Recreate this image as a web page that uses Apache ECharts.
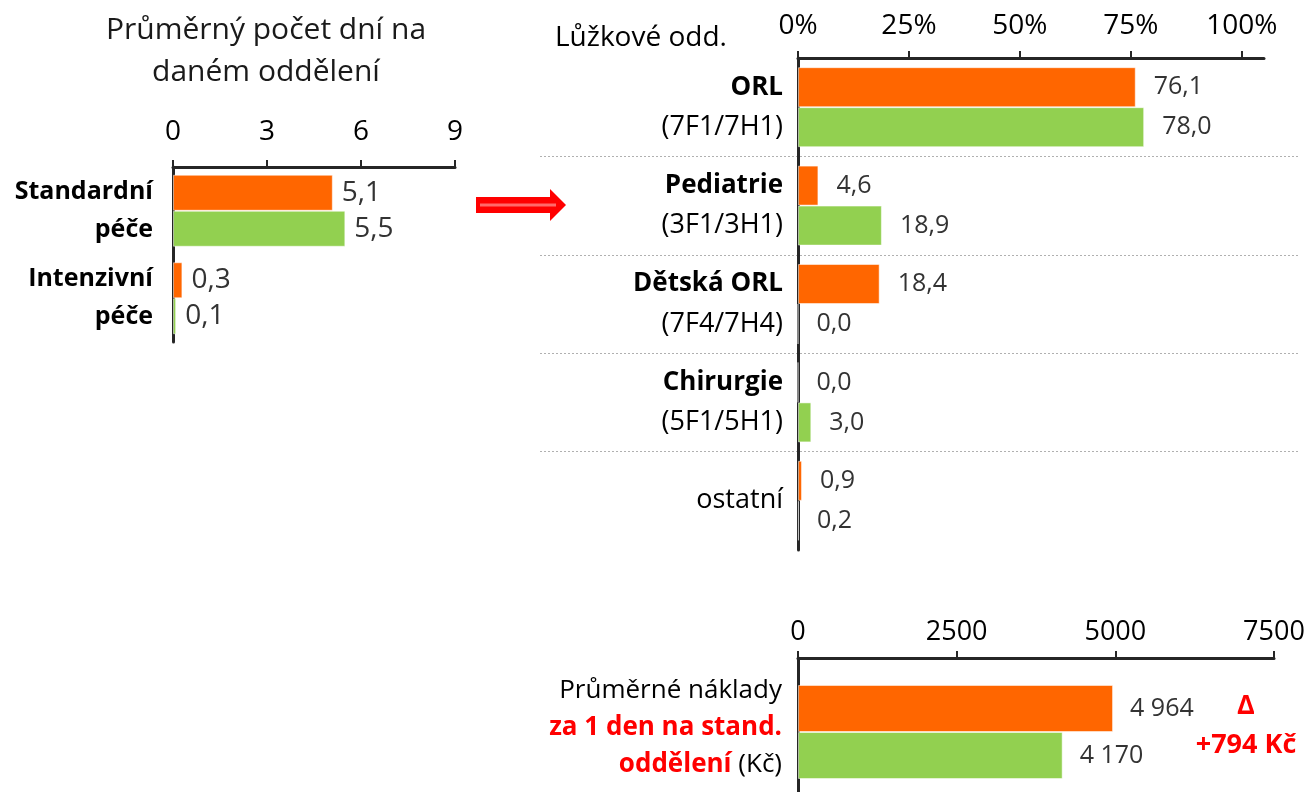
<!DOCTYPE html>
<html>
<head>
<meta charset="utf-8">
<script src="https://cdn.jsdelivr.net/npm/echarts@6/dist/echarts.min.js"></script>
<style>
html,body{margin:0;padding:0;background:#fff;}
#chart{width:1306px;height:792px;}
</style>
</head>
<body>
<div id="chart"></div>
<script>
// ---- data ----
const careCategories = ['Standardní péče', 'Intenzivní péče'];
const careOrange = [5.1, 0.3];
const careGreen = [5.5, 0.1];
const careTicks = [0, 3, 6, 9];

const deptNames = ['ORL', 'Pediatrie', 'Dětská ORL', 'Chirurgie', 'ostatní'];
const deptCodes = ['(7F1/7H1)', '(3F1/3H1)', '(7F4/7H4)', '(5F1/5H1)', ''];
const deptOrange = [76.1, 4.6, 18.4, 0.0, 0.9];
const deptGreen = [78.0, 18.9, 0.0, 3.0, 0.2];
const pctTicks = [0, 25, 50, 75, 100];

const costCategory = ['Průměrné náklady za 1 den na stand. oddělení (Kč)'];
const costOrange = [4964];
const costGreen = [4170];
const costTicks = [0, 2500, 5000, 7500];

// ---- styles ----
const ORANGE = '#FF6600';
const GREEN = '#92D050';
const AXIS = '#262626';
const FONT = '"Open Sans", "Noto Sans", sans-serif';
const dec = v => v.toFixed(1).replace('.', ',');
const thousands = v => String(v).replace(/\B(?=(\d{3})+(?!\d))/g, ' ');

const chart = echarts.init(document.getElementById('chart'));

const axisLine = {show: true, lineStyle: {color: AXIS, width: 3}};

function barSeries(x, y, data, color, width, fmt, fontSize, dist) {
  return {
    type: 'bar', xAxisIndex: x, yAxisIndex: y, data: data,
    barWidth: width, barGap: '0%',
    itemStyle: {color: color, borderColor: 'rgba(255,255,255,0.5)', borderWidth: 1},
    label: {show: true, position: 'right', distance: dist, color: '#333',
      fontFamily: FONT, fontSize: fontSize, formatter: p => fmt(p.value)},
    silent: true, animation: false
  };
}

const delta = costOrange[0] - costGreen[0];

const option = {
  animation: false,
  backgroundColor: '#fff',
  textStyle: {fontFamily: FONT},
  grid: [
    {left: 173, top: 167, width: 282, height: 175, outerBoundsMode: 'none'},
    {left: 798, top: 58, width: 466, height: 492, outerBoundsMode: 'none'},
    {left: 540, top: 58, width: 760, height: 492, outerBoundsMode: 'none'},
    {left: 798, top: 658, width: 476, height: 148, outerBoundsMode: 'none'}
  ],
  xAxis: [
    {gridIndex: 0, type: 'value', position: 'top', min: careTicks[0], max: careTicks[careTicks.length-1], interval: 3,
     axisLine: axisLine, axisTick: {show: true, length: 7, lineStyle: {color: AXIS, width: 2}},
     splitLine: {show: false},
     axisLabel: {fontSize: 28, color: '#000', margin: 21, fontFamily: FONT}},
    {gridIndex: 1, type: 'value', position: 'top', min: 0, max: 105,
     axisLine: axisLine,
     axisTick: {show: true, length: 7, lineStyle: {color: AXIS, width: 2}, customValues: pctTicks},
     splitLine: {show: false},
     axisLabel: {fontSize: 28, color: '#000', margin: 18, fontFamily: FONT, customValues: pctTicks, formatter: '{value}%'}},
    {gridIndex: 2, type: 'value', show: false, min: 0, max: 1},
    {gridIndex: 3, type: 'value', position: 'top', min: 0, max: costTicks[costTicks.length-1], interval: 2500,
     axisLine: axisLine, axisTick: {show: true, length: 7, lineStyle: {color: AXIS, width: 2}},
     splitLine: {show: false},
     axisLabel: {fontSize: 27, color: '#000', margin: 12, fontFamily: FONT, formatter: v => String(v)}}
  ],
  yAxis: [
    {gridIndex: 0, type: 'category', inverse: true, data: careCategories,
     axisLine: axisLine, axisTick: {show: false},
     axisLabel: {margin: 20, align: 'right', fontFamily: FONT, fontSize: 25, fontWeight: 'bold', color: '#000', lineHeight: 38,
       formatter: v => v.replace(' ', '\n')}},
    {gridIndex: 1, type: 'category', inverse: true, data: deptNames,
     axisLine: axisLine, axisTick: {show: false},
     axisLabel: {margin: 15, align: 'right', fontFamily: FONT,
       formatter: (v, i) => deptCodes[i] ? '{b|' + v + '}\n{n|' + deptCodes[i] + '}' : '{n|' + v + '}',
       rich: {
         b: {fontFamily: FONT, fontSize: 26, fontWeight: 'bold', color: '#000', lineHeight: 40, align: 'right'},
         n: {fontFamily: FONT, fontSize: 27, color: '#000', lineHeight: 40, align: 'right'}
       }}},
    {gridIndex: 2, type: 'category', inverse: true, data: deptNames,
     axisLine: {show: false}, axisTick: {show: false}, axisLabel: {show: false},
     splitLine: {show: true, showMinLine: false, showMaxLine: false,
       lineStyle: {color: '#b0b0b0', type: [2, 2], width: 1}}},
    {gridIndex: 3, type: 'category', inverse: true, data: costCategory,
     axisLine: axisLine, axisTick: {show: false},
     axisLabel: {margin: 16, align: 'right', fontFamily: FONT, padding: [0, 0, 9, 0],
       formatter: () => '{n|Průměrné náklady}\n{r|za 1 den na stand.}\n{r|oddělení}{n| (Kč)}',
       rich: {
         n: {fontFamily: FONT, fontSize: 26, color: '#000', lineHeight: 37, align: 'right'},
         r: {fontFamily: FONT, fontSize: 26, fontWeight: 'bold', color: '#FF0000', lineHeight: 37, align: 'right'}
       }}}
  ],
  series: [
    barSeries(0, 0, careOrange, ORANGE, 36, dec, 28, 9),
    barSeries(0, 0, careGreen, GREEN, 36, dec, 28, 9),
    barSeries(1, 1, deptOrange, ORANGE, 40, dec, 25, 18),
    barSeries(1, 1, deptGreen, GREEN, 40, dec, 25, 18),
    barSeries(3, 3, costOrange, ORANGE, 47, thousands, 25, 17),
    barSeries(3, 3, costGreen, GREEN, 47, thousands, 25, 17)
  ],
  graphic: [
    {type: 'text', position: [266, 9], silent: true,
     style: {text: 'Průměrný počet dní na\ndaném oddělení', x: 0, y: 0, align: 'center', verticalAlign: 'top',
       font: '30px ' + FONT, fill: '#1a1a1a', lineHeight: 42}},
    {type: 'text', position: [555, 38], silent: true,
     style: {text: 'Lůžkové odd.', x: 0, y: 0, align: 'left', verticalAlign: 'middle',
       font: '28px ' + FONT, fill: '#000'}},
    {type: 'polygon', silent: true,
     shape: {points: [[476,197],[550,197],[550,189],[566,205],[550,221],[550,213],[476,213]]},
     style: {fill: '#FF0000'}},
    {type: 'line', silent: true, shape: {x1: 480, y1: 205, x2: 556, y2: 205},
     style: {stroke: '#FF6A6A', lineWidth: 3}},
    {type: 'text', position: [1246, 706], silent: true,
     style: {text: 'Δ', x: 0, y: 0, align: 'center', verticalAlign: 'middle',
       font: 'bold 27px ' + FONT, fill: '#FF0000'}},
    {type: 'text', position: [1246, 745], silent: true,
     style: {text: '+' + delta + ' Kč', x: 0, y: 0, align: 'center', verticalAlign: 'middle',
       font: 'bold 27px ' + FONT, fill: '#FF0000'}}
  ]
};
chart.setOption(option);
</script>
</body>
</html>
